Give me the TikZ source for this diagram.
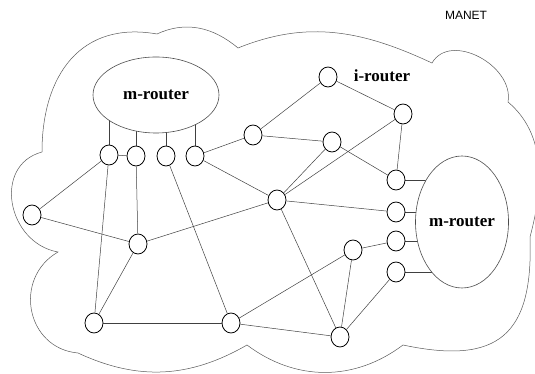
\documentclass[tikz,border=0pt]{standalone}
\usepackage{fontspec}
\setmainfont{Liberation Serif}
\setsansfont{Liberation Sans}
\usetikzlibrary{shapes.geometric,backgrounds}

\begin{document}
\begin{tikzpicture}[x=1pt,y=1pt,
  host/.style={draw,ellipse,line width=0.8pt,fill=white,minimum width=18pt,minimum height=20pt,inner sep=0pt},
  router/.style={draw=black!70,ellipse,line width=0.6pt,fill=white,inner sep=0pt,
    font=\fontsize{17}{20}\selectfont\bfseries},
  link/.style={draw=black!75,line width=0.5pt}]
\useasboundingbox (0,0) rectangle (535,374);

% cloud
\draw[black!65,line width=0.5pt] (42,222) to[out=90,in=170,looseness=1.2] (157,340)
  to[out=25,in=140] (238,326)
  to[out=22,in=155] (432,311)
  to[out=60,in=80,looseness=1.1] (508,272)
  to[out=-40,in=75,looseness=0.95] (530,137)
  to[out=-88,in=-12,looseness=1.5] (403,29)
  to[out=-143,in=-37] (247,29)
  to[out=210,in=335] (78,21)
  to[out=175,in=210,looseness=1.3] (58,122)
  to[out=170,in=195,looseness=1.3] (42,222);

\node[font=\sffamily\fontsize{12}{14}\selectfont] (manet) at (466,359) {MANET};

% routers
\node[router,minimum width=126pt,minimum height=76pt] (mr1) at (156,279) {m-router};
\node[router,minimum width=84pt,minimum height=132pt] (mr2) at (462,152) {m-router};

% hosts
\node[host] (a1) at (109,219) {};
\node[host] (a2) at (136,218) {};
\node[host] (a3) at (166,218) {};
\node[host] (a4) at (195,218) {};
\node[host] (b1) at (253,239) {};
\node[host] (ir) at (328,297) {};
\node[font=\fontsize{17}{20}\selectfont\bfseries] (irl) at (382,298) {i-router};
\node[host] (b3) at (403,260) {};
\node[host] (b4) at (332,232) {};
\node[host] (b5) at (396,194) {};
\node[host] (c) at (277,174) {};
\node[host] (l) at (32,159) {};
\node[host] (m) at (138,130) {};
\node[host] (r2) at (396,162) {};
\node[host] (r3) at (396,133) {};
\node[host] (r4) at (396,102) {};
\node[host] (d) at (353,124) {};
\node[host] (bl) at (94,51) {};
\node[host] (bm) at (231,51) {};
\node[host] (br) at (340,37) {};

\begin{scope}[on background layer]
\foreach \h in {a1,a2,a3,a4}
  \draw[link] (\h.north) -- (\h.north |- mr1.center);
\foreach \h in {b5,r2,r3,r4}
  \draw[link] (\h.east) -- (\h.east -| mr2.center);
\end{scope}

\draw[link] (a1) -- (a2);
\draw[link] (a1) -- (l);
\draw[link] (a1) -- (bl);
\draw[link] (a2) -- (m);
\draw[link] (a3) -- (bm);
\draw[link] (a4) -- (b1);
\draw[link] (a4) -- (c);
\draw[link] (b1) -- (ir);
\draw[link] (b1) -- (b4);
\draw[link] (ir) -- (b3);
\draw[link] (b3) -- (b5);
\draw[link] (b3) -- (c);
\draw[link] (b4) -- (c);
\draw[link] (b4) -- (b5);
\draw[link] (c) -- (r2);
\draw[link] (c) -- (m);
\draw[link] (c) -- (br);
\draw[link] (l) -- (m);
\draw[link] (m) -- (bl);
\draw[link] (bl) -- (bm);
\draw[link] (bm) -- (d);
\draw[link] (bm) -- (br);
\draw[link] (d) -- (r3);
\draw[link] (d) -- (br);
\draw[link] (br) -- (r4);

\end{tikzpicture}
\end{document}
